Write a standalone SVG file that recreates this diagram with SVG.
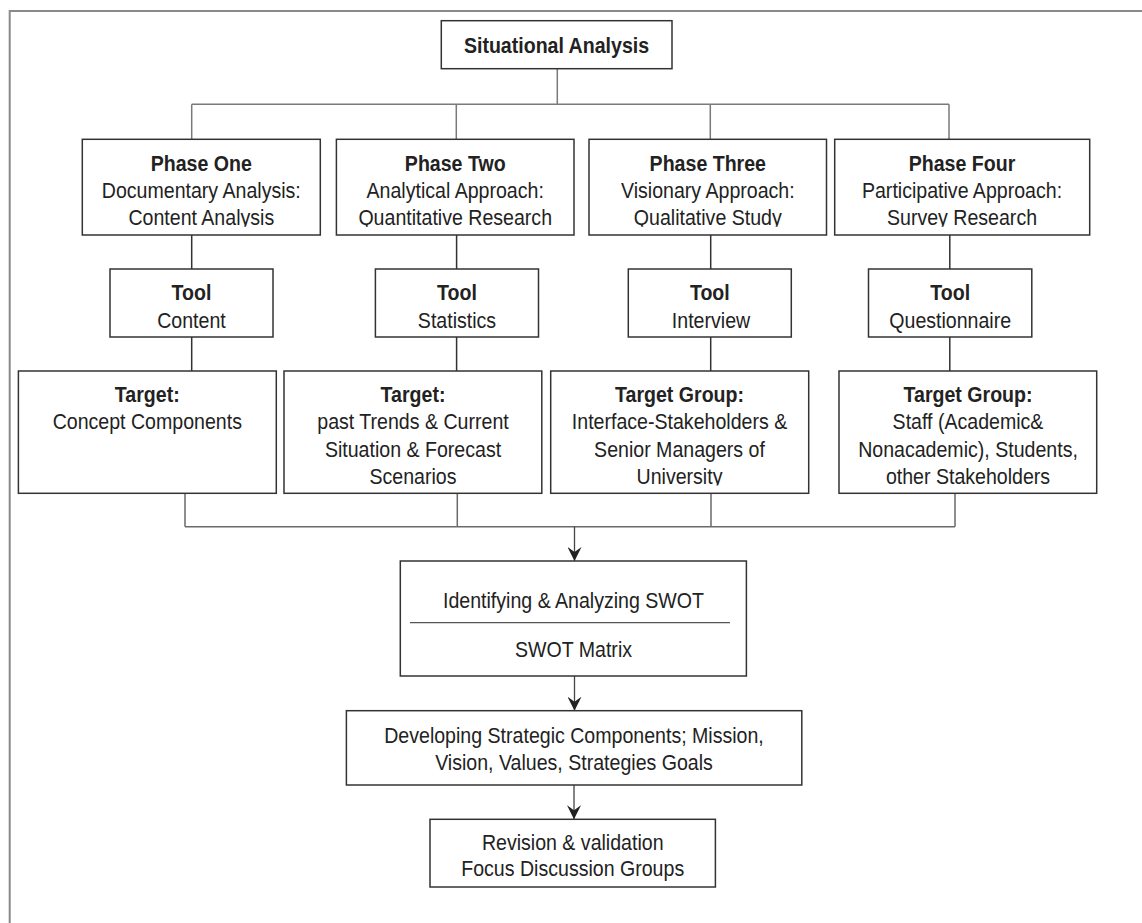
<svg xmlns="http://www.w3.org/2000/svg" width="1142" height="923" viewBox="0 0 1142 923">
<style>
.box{fill:#fff;stroke:#333;stroke-width:1.5}
.t{font-family:"Liberation Sans",Arial,sans-serif;font-size:22px;fill:#222;text-anchor:middle}
.b{font-weight:bold}
.tree{stroke:#7a7a7a;stroke-width:1.5;fill:none}
.dk{stroke:#333;stroke-width:1.5;fill:none}
.col{stroke:#6a6a6a;stroke-width:1.5;fill:none}
.arr{stroke:#444;stroke-width:1.3;fill:none;marker-end:url(#ah)}
.frame{stroke:#8a8a8a;stroke-width:2;fill:none}
</style>
<defs>
<marker id="ah" viewBox="0 0 14 14" refX="14" refY="7" markerWidth="14" markerHeight="14" markerUnits="userSpaceOnUse" orient="auto">
<path d="M0,0 L14,7 L0,14 L5,7 Z" fill="#222"/>
</marker>
<clipPath id="cp1" clipPathUnits="userSpaceOnUse"><rect x="-2000" y="0" width="4000" height="226.8"/></clipPath>
<clipPath id="cp2" clipPathUnits="userSpaceOnUse"><rect x="-2000" y="0" width="4000" height="485.6"/></clipPath>
</defs>
<rect width="1142" height="923" fill="#fff"/>
<path class="frame" d="M9.7,923 V11 H1142"/>

<g id="connectors">
<path class="tree" d="M557.3,68.7 V104.3 M191.7,104.3 H949 M191.7,104.3 V139.3 M456.3,104.3 V139.3 M710.3,104.3 V139.3 M949,104.3 V139.3"/>
<path class="dk" d="M191.7,235 V269 M456.6,235 V269 M710.7,235 V269 M949.8,235 V269"/>
<path class="dk" d="M191.7,337 V371 M456.6,337 V371 M710.7,337 V371 M949.8,337 V371"/>
<path class="col" d="M185,493.3 V526.7 M457.3,493.3 V526.7 M711,493.3 V526.7 M955,493.3 V526.7 M185,526.7 H955"/>
<line class="arr" x1="574.5" y1="526.7" x2="574.5" y2="561"/>
<line class="arr" x1="574.5" y1="676" x2="574.5" y2="710.7"/>
<line class="arr" x1="574" y1="785" x2="574" y2="819.3"/>
</g>

<g id="situational">
<rect class="box" x="441.3" y="20.7" width="230.7" height="48"/>
<text class="t b" transform="matrix(0.89 0 0 1 556.5 0)" y="53.3">Situational Analysis</text>
</g>

<g id="phase1">
<rect class="box" x="82.3" y="139.3" width="238" height="95.7"/>
<text class="t b" transform="matrix(0.89 0 0 1 201.3 0)" y="171">Phase One</text>
<text class="t" transform="matrix(0.89 0 0 1 201.3 0)" y="198">Documentary Analysis:</text>
<text class="t" transform="matrix(0.89 0 0 1 201.3 0)" y="225" clip-path="url(#cp1)">Content Analysis</text>
</g>
<g id="phase2">
<rect class="box" x="336.4" y="139.3" width="237.6" height="95.7"/>
<text class="t b" transform="matrix(0.89 0 0 1 455.2 0)" y="171">Phase Two</text>
<text class="t" transform="matrix(0.89 0 0 1 455.2 0)" y="198">Analytical Approach:</text>
<text class="t" transform="matrix(0.89 0 0 1 455.2 0)" y="225" clip-path="url(#cp1)">Quantitative Research</text>
</g>
<g id="phase3">
<rect class="box" x="589" y="139.3" width="237.5" height="95.7"/>
<text class="t b" transform="matrix(0.89 0 0 1 707.8 0)" y="171">Phase Three</text>
<text class="t" transform="matrix(0.89 0 0 1 707.8 0)" y="198">Visionary Approach:</text>
<text class="t" transform="matrix(0.89 0 0 1 707.8 0)" y="225" clip-path="url(#cp1)">Qualitative Study</text>
</g>
<g id="phase4">
<rect class="box" x="834.7" y="139.3" width="255" height="95.7"/>
<text class="t b" transform="matrix(0.89 0 0 1 962 0)" y="171">Phase Four</text>
<text class="t" transform="matrix(0.89 0 0 1 962 0)" y="198">Participative Approach:</text>
<text class="t" transform="matrix(0.89 0 0 1 962 0)" y="225" clip-path="url(#cp1)">Survey Research</text>
</g>

<g id="tool1">
<rect class="box" x="110" y="269" width="163" height="68"/>
<text class="t b" transform="matrix(0.89 0 0 1 191.5 0)" y="300">Tool</text>
<text class="t" transform="matrix(0.89 0 0 1 191.5 0)" y="327.7">Content</text>
</g>
<g id="tool2">
<rect class="box" x="375.4" y="269" width="163.1" height="68"/>
<text class="t b" transform="matrix(0.89 0 0 1 457 0)" y="300">Tool</text>
<text class="t" transform="matrix(0.89 0 0 1 457 0)" y="327.7">Statistics</text>
</g>
<g id="tool3">
<rect class="box" x="628.3" y="269" width="163" height="68"/>
<text class="t b" transform="matrix(0.89 0 0 1 709.8 0)" y="300">Tool</text>
<text class="t" transform="matrix(0.89 0 0 1 711 0)" y="327.7">Interview</text>
</g>
<g id="tool4">
<rect class="box" x="868.5" y="269" width="163.3" height="68"/>
<text class="t b" transform="matrix(0.89 0 0 1 950.2 0)" y="300">Tool</text>
<text class="t" transform="matrix(0.89 0 0 1 950.2 0)" y="327.7">Questionnaire</text>
</g>

<g id="target1">
<rect class="box" x="18.4" y="371" width="257.9" height="122.3"/>
<text class="t b" transform="matrix(0.89 0 0 1 147.3 0)" y="401.7">Target:</text>
<text class="t" transform="matrix(0.89 0 0 1 147.3 0)" y="429.3">Concept Components</text>
</g>
<g id="target2">
<rect class="box" x="284" y="371" width="257.8" height="122.3"/>
<text class="t b" transform="matrix(0.89 0 0 1 413 0)" y="401.7">Target:</text>
<text class="t" transform="matrix(0.89 0 0 1 413 0)" y="429.3">past Trends &amp; Current</text>
<text class="t" transform="matrix(0.89 0 0 1 413 0)" y="456.7">Situation &amp; Forecast</text>
<text class="t" transform="matrix(0.89 0 0 1 413 0)" y="484" clip-path="url(#cp2)">Scenarios</text>
</g>
<g id="target3">
<rect class="box" x="550.7" y="371" width="258" height="122.3"/>
<text class="t b" transform="matrix(0.89 0 0 1 679.5 0)" y="401.7">Target Group:</text>
<text class="t" transform="matrix(0.89 0 0 1 679.5 0)" y="429.3">Interface-Stakeholders &amp;</text>
<text class="t" transform="matrix(0.89 0 0 1 679.5 0)" y="456.7">Senior Managers of</text>
<text class="t" transform="matrix(0.89 0 0 1 679.5 0)" y="484" clip-path="url(#cp2)">University</text>
</g>
<g id="target4">
<rect class="box" x="839" y="371" width="257.7" height="122.3"/>
<text class="t b" transform="matrix(0.89 0 0 1 968 0)" y="401.7">Target Group:</text>
<text class="t" transform="matrix(0.89 0 0 1 968 0)" y="429.3">Staff (Academic&amp;</text>
<text class="t" transform="matrix(0.89 0 0 1 968 0)" y="456.7">Nonacademic), Students,</text>
<text class="t" transform="matrix(0.89 0 0 1 968 0)" y="484" clip-path="url(#cp2)">other Stakeholders</text>
</g>

<g id="swot">
<rect class="box" x="400.3" y="561" width="346.1" height="115"/>
<text class="t" transform="matrix(0.89 0 0 1 573.5 0)" y="608.3">Identifying &amp; Analyzing SWOT</text>
<line x1="410" y1="622.7" x2="730" y2="622.7" stroke="#555" stroke-width="1.3"/>
<text class="t" transform="matrix(0.89 0 0 1 573.5 0)" y="657.3">SWOT Matrix</text>
</g>

<g id="developing">
<rect class="box" x="346.4" y="710.7" width="455.4" height="74.3"/>
<text class="t" transform="matrix(0.89 0 0 1 574 0)" y="743.3">Developing Strategic Components; Mission,</text>
<text class="t" transform="matrix(0.89 0 0 1 574 0)" y="770">Vision, Values, Strategies Goals</text>
</g>

<g id="revision">
<rect class="box" x="430" y="819.3" width="285.4" height="67.7"/>
<text class="t" transform="matrix(0.89 0 0 1 572.7 0)" y="850">Revision &amp; validation</text>
<text class="t" transform="matrix(0.89 0 0 1 572.7 0)" y="876">Focus Discussion Groups</text>
</g>
</svg>
